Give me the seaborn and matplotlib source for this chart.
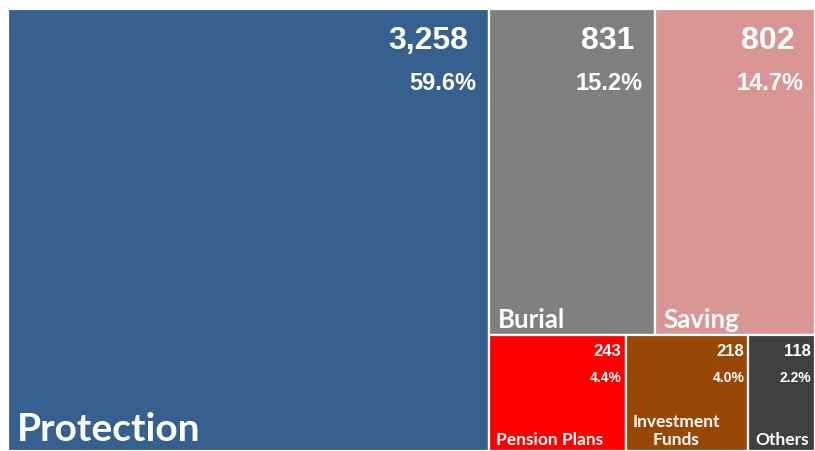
import matplotlib.pyplot as plt
import seaborn as sns

categories = ["Protection", "Burial", "Saving", "Pension Plans", "Investment\nFunds", "Others"]
values = [3258, 831, 802, 243, 218, 118]
colors = ["#36608F", "#808080", "#D99694", "#FF0000", "#974806", "#404040"]
# the first category fills the left column, the rest are stacked in rows on the right
rows = [[1, 2], [3, 4, 5]]

sns.set_style("white")
plt.rcParams["font.family"] = ["Liberation Sans Narrow", "Liberation Sans", "DejaVu Sans"]

fig = plt.figure(figsize=(8.15, 4.51), dpi=100)
ax = fig.add_axes([8 / 815, 0, 807 / 815, 442 / 451])

total = sum(values)
rest = total - values[0]
left_w = values[0] / total

boxes = [(0.0, 0.0, left_w, 1.0)]
y = 0.0
for row in rows:
    row_sum = sum(values[i] for i in row)
    h = row_sum / rest
    x = left_w
    for i in row:
        w = values[i] / row_sum * (1 - left_w)
        boxes.append((x, y, w, h))
        x += w
    y += h

order = [0] + [i for r in rows for i in r]
rects = dict(zip(order, boxes))

for i in range(len(values)):
    x, y, w, h = rects[i]
    ax.bar(x, h, width=w, bottom=y, align="edge", color=colors[i],
           edgecolor="white", linewidth=1.6)

    pct = f"{values[i] / total:.1%}"
    if i < 3:
        ax.annotate(f"{values[i]:,}", (x + w, y), xytext=(-20, -17), textcoords="offset pixels",
                    ha="right", va="top", color="white", fontsize=23, fontweight="bold")
        ax.annotate(pct, (x + w, y), xytext=(-12, -63), textcoords="offset pixels",
                    ha="right", va="top", color="white", fontsize=17, fontweight="bold")
        lsize = 28 if i == 0 else 18.5
        ax.annotate(categories[i], (x, y + h), xytext=(9, 10 if i == 0 else 7),
                    textcoords="offset pixels", ha="left", va="baseline", color="white",
                    fontsize=lsize, fontweight="bold", family=["Lato", "DejaVu Sans"])
    else:
        ax.annotate(f"{values[i]:,}", (x + w, y), xytext=(-4, -9), textcoords="offset pixels",
                    ha="right", va="top", color="white", fontsize=12, fontweight="bold",
                    family=["Liberation Sans", "DejaVu Sans"])
        ax.annotate(pct, (x + w, y), xytext=(-4, -36), textcoords="offset pixels",
                    ha="right", va="top", color="white", fontsize=10, fontweight="bold",
                    family=["Liberation Sans", "DejaVu Sans"])
        ax.annotate(categories[i], (x, y + h), xytext=(7, 6), textcoords="offset pixels",
                    ha="left", va="baseline", color="white", fontsize=12.5, fontweight="bold",
                    family=["Lato", "DejaVu Sans"], multialignment="center", linespacing=1.15)

ax.set_xlim(0, 1)
ax.set_ylim(1, 0)
ax.axis("off")

fig.savefig("out.png", dpi=100)
